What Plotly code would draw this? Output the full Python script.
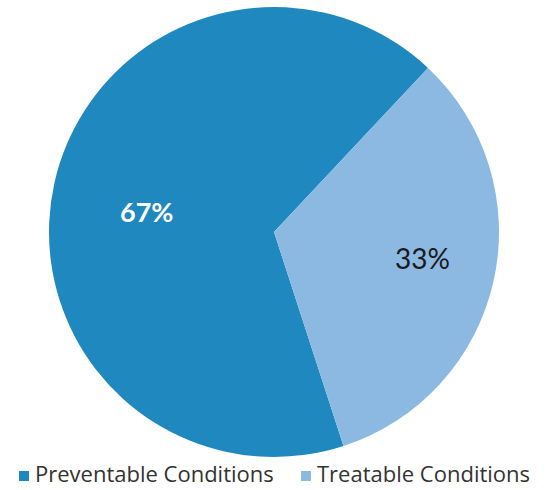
import plotly.graph_objects as go

categories = ["Preventable Conditions", "Treatable Conditions"]
shares = [67, 33]
colors = ["#1F88BE", "#8CB9E1"]

W, H = 548, 490

fig = go.Figure(
    go.Pie(
        labels=categories,
        values=shares,
        sort=False,
        direction="clockwise",
        rotation=162,
        marker=dict(colors=colors, line=dict(width=0)),
        textinfo="none",
        domain=dict(x=[49 / W, 499 / W], y=[1 - 457 / H, 1 - 7 / H]),
        hoverinfo="label+percent",
        showlegend=False,
    )
)

# percentage labels placed inside each slice
label_pos = [(146 / W, 1 - 211 / H), (422 / W, 1 - 258 / H)]
label_style = [
    dict(family="Lato", size=27, color="white", weight="bold"),
    dict(family="Lato", size=28, color="#1a1a1a"),
]
for v, (x, y), f in zip(shares, label_pos, label_style):
    fig.add_annotation(
        x=x, y=y, xref="paper", yref="paper",
        text=f"{v}%", showarrow=False, font=f,
        xanchor="center", yanchor="middle",
    )

# legend row along the bottom: square swatch followed by the category name
legend_left = [19, 301]
swatch = 10
swatch_bottom = 481
for name, col, x0 in zip(categories, colors, legend_left):
    fig.add_shape(
        type="rect", xref="paper", yref="paper",
        x0=x0 / W, x1=(x0 + swatch) / W,
        y0=1 - swatch_bottom / H, y1=1 - (swatch_bottom - swatch) / H,
        fillcolor=col, line=dict(width=0),
    )
    fig.add_annotation(
        x=(x0 + swatch + 4) / W, y=0,
        xref="paper", yref="paper",
        text=name, showarrow=False,
        xanchor="left", yanchor="bottom",
        font=dict(family="Open Sans", size=22, color="#333333"),
    )

fig.update_layout(
    width=W,
    height=H,
    margin=dict(l=0, r=0, t=0, b=0),
    paper_bgcolor="white",
    plot_bgcolor="white",
)

fig.write_html("out.html")
